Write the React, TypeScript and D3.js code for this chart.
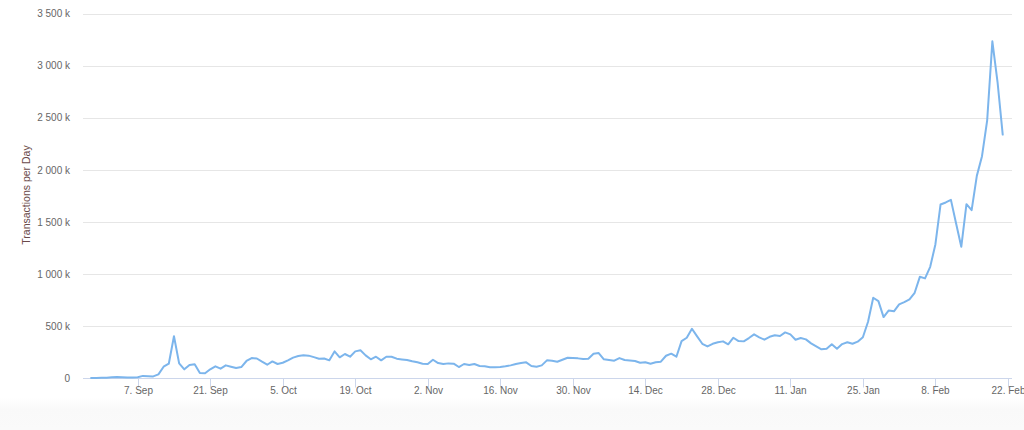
import React from "react";
import * as d3 from "d3";

// daily transactions, in thousands, starting 29 Aug
const startDay = "2017-08-29";
const txPerDayK = [
  5, 5, 6,
  // Sep
  8, 12, 14, 12, 10, 10, 12, 25, 22, 20, 40, 113, 142, 405, 145, 88, 130, 136, 53, 50,
  88, 117, 94, 126, 113, 100, 110, 168, 196, 192,
  // Oct
  161, 132, 164, 139, 151, 174, 200, 215, 222, 219, 205, 190, 192, 174, 260, 203, 235,
  209, 260, 270, 222, 184, 209, 174, 209, 209, 190, 183, 177, 165, 155,
  // Nov
  142, 139, 180, 148, 139, 145, 142, 110, 139, 129, 139, 120, 117, 107, 108, 110, 117,
  126, 139, 148, 155, 120, 113, 126, 174, 171, 161, 180, 199, 196,
  // Dec
  193, 187, 190, 238, 244, 184, 178, 171, 196, 177, 172, 168, 151, 155, 142, 155, 161,
  218, 238, 209, 359, 391, 477, 404, 333, 308, 333, 347, 356, 328, 391,
  // Jan
  359, 356, 388, 423, 395, 372, 400, 414, 407, 442, 423, 372, 388, 375, 337, 308, 280,
  285, 328, 285, 330, 347, 333, 353, 395, 544, 774, 742, 589, 653, 644,
  // Feb
  711, 733, 759, 822, 975, 960, 1071, 1285, 1669, 1688, 1713, 1487, 1263, 1672, 1614,
  1943, 2132, 2476, 3233, 2843, 2339,
];

const xTickDays = [
  "2017-09-07", "2017-09-21", "2017-10-05", "2017-10-19", "2017-11-02", "2017-11-16",
  "2017-11-30", "2017-12-14", "2017-12-28", "2018-01-11", "2018-01-25", "2018-02-08",
  "2018-02-22",
];
const yTicksK = [0, 500, 1000, 1500, 2000, 2500, 3000, 3500];
const xDomain = ["2017-08-27T10:30", "2018-02-22T19:00"];

const parseDay = d3.timeParse("%Y-%m-%d");
const parseTime = d3.timeParse("%Y-%m-%dT%H:%M");
const fmtTick = d3.timeFormat("%-d. %b");

const FONT = "'Liberation Sans', Arial, sans-serif";

export default function App() {
  const width = 1024;
  const height = 430;
  const plot = { left: 83, right: 1012, top: 13.5, bottom: 378.5 };

  const start = parseDay(startDay) as Date;
  const points = txPerDayK.map((v, i) => ({ date: d3.timeDay.offset(start, i), v }));

  const x = d3
    .scaleTime()
    .domain(xDomain.map((d) => parseTime(d) as Date))
    .range([plot.left, plot.right]);
  const y = d3.scaleLinear().domain([0, 3500]).range([plot.bottom, plot.top]);

  const line = d3
    .line<{ date: Date; v: number }>()
    .x((d) => x(d.date))
    .y((d) => y(d.v));

  const fmtY = (d: number) =>
    d === 0 ? "0" : d3.format(",")(d).replace(/,/g, " ") + " k";

  return (
    <svg
      width={width}
      height={height}
      style={{ position: "absolute", left: 0, top: 0, background: "#fff" }}
      fontFamily={FONT}
    >
      <defs>
        <linearGradient id="pageFade" x1="0" x2="0" y1="0" y2="1">
          <stop offset="0%" stopColor="#ffffff" />
          <stop offset="35%" stopColor="#f9f9f9" />
          <stop offset="100%" stopColor="#fafafa" />
        </linearGradient>
      </defs>
      <rect x={0} y={398} width={width} height={32} fill="url(#pageFade)" />

      {/* gridlines + y labels */}
      {yTicksK.map((t) => (
        <g key={t}>
          {t > 0 && (
            <line
              x1={plot.left}
              x2={plot.right}
              y1={Math.round(y(t)) + 0.5}
              y2={Math.round(y(t)) + 0.5}
              stroke="#e6e6e6"
              strokeWidth={1}
            />
          )}
          <text
            x={70}
            y={y(t) + 3.6}
            textAnchor="end"
            fontSize={10}
            fill="#666666"
          >
            {fmtY(t)}
          </text>
        </g>
      ))}

      <text
        transform="translate(25.5, 195) rotate(-90)"
        textAnchor="middle"
        dominantBaseline="central"
        fontSize={10.5}
        fill="#6b4a4a"
      >
        Transactions per Day
      </text>

      {/* x axis */}
      <line
        x1={plot.left}
        x2={plot.right}
        y1={plot.bottom}
        y2={plot.bottom}
        stroke="#ccd6eb"
        strokeWidth={1}
      />
      {xTickDays.map((d) => {
        const px = Math.round(x(parseDay(d) as Date)) + 0.5;
        return (
          <g key={d}>
            <line x1={px} x2={px} y1={plot.bottom} y2={plot.bottom + 9} stroke="#ccd6eb" />
            <text x={px} y={394} textAnchor="middle" fontSize={10} fill="#666666">
              {fmtTick(parseDay(d) as Date)}
            </text>
          </g>
        );
      })}

      <path
        d={line(points) || ""}
        fill="none"
        stroke="#7cb5ec"
        strokeWidth={2}
        strokeLinejoin="round"
        strokeLinecap="round"
      />
    </svg>
  );
}
